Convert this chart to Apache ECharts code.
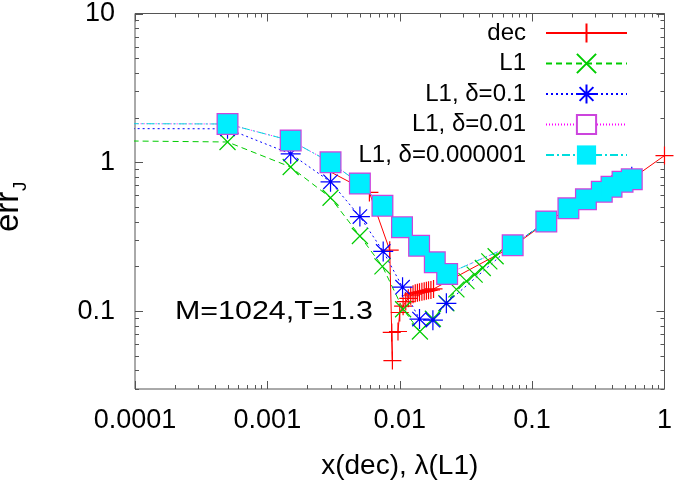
<!DOCTYPE html>
<html><head><meta charset="utf-8">
<script src="https://cdn.jsdelivr.net/npm/echarts@6/dist/echarts.min.js"></script>
<style>html,body{margin:0;padding:0;background:#fff}#c{width:675px;height:485px}</style>
</head><body><div id="c"></div>
<script>
// ---- axis ticks ----
const xTickValues = [0.0001, 0.001, 0.01, 0.1, 1];
const xTickLabels = ['0.0001', '0.001', '0.01', '0.1', '1'];
const yTickValues = [0.1, 1, 10];
const yTickLabels = ['0.1', '1', '10'];
const minorMultipliers = [2, 3, 4, 5, 6, 7, 8, 9];
const xMinorDecades = [0.0001, 0.001, 0.01, 0.1];
const yMinorDecades = [0.01, 0.1, 1];

// ---- series names ----
const seriesNames = ['dec', 'L1', 'L1, δ=0.1', 'L1, δ=0.01', 'L1, δ=0.000001'];

// ---- data ----
const decX = [0.003, 0.0059, 0.0084, 0.0088, 0.0087, 0.0097, 0.0100, 0.0106, 0.0111, 0.0116, 0.0121, 0.0126, 0.0131, 0.0136, 0.0141, 0.0147, 0.0153, 0.0159, 0.0165, 0.0172, 0.0180, 0.0713, 0.128, 0.188, 0.255, 0.336, 0.398, 0.482, 0.566, 1.0];
const decY = [0.862, 0.628, 0.257, 0.0466, 0.072, 0.073, 0.098, 0.108, 0.116, 0.122, 0.127, 0.130, 0.132, 0.133, 0.134, 0.135, 0.136, 0.137, 0.138, 0.139, 0.141, 0.272, 0.395, 0.487, 0.56, 0.63, 0.68, 0.735, 0.775, 1.11];

const l1X = [0.00001, 0.0005, 0.0015, 0.003, 0.005, 0.0074, 0.0106, 0.0142, 0.0178, 0.0225, 0.0268, 0.0319, 0.0368, 0.0424, 0.0475, 0.053, 0.0713, 0.128, 0.188, 0.255, 0.336, 0.398, 0.482, 0.566];
const l1Y = [1.42, 1.37, 0.93, 0.578, 0.32, 0.20, 0.103, 0.073, 0.089, 0.113, 0.140, 0.159, 0.176, 0.195, 0.216, 0.234, 0.277, 0.40, 0.491, 0.564, 0.634, 0.685, 0.74, 0.77];

const d01X = [0.00001, 0.0005, 0.0015, 0.003, 0.005, 0.0075, 0.0105, 0.0141, 0.0178, 0.0225, 0.0713, 0.128, 0.188, 0.255, 0.336, 0.398, 0.482, 0.566];
const d01Y = [1.69, 1.68, 1.14, 0.74, 0.432, 0.252, 0.145, 0.0885, 0.087, 0.113, 0.277, 0.40, 0.491, 0.566, 0.642, 0.70, 0.76, 0.80];

const d001X = [0.00001, 0.0005, 0.0015, 0.003, 0.005, 0.0074, 0.0104, 0.014, 0.0184, 0.0228, 0.0713, 0.128, 0.188, 0.255, 0.336, 0.398, 0.482, 0.566];
const d001Y = [1.83, 1.81, 1.40, 1.0, 0.72, 0.51, 0.367, 0.275, 0.213, 0.178, 0.277, 0.40, 0.491, 0.564, 0.634, 0.685, 0.74, 0.77];

const d1e6X = [0.00001, 0.0005, 0.0015, 0.003, 0.005, 0.0074, 0.0104, 0.014, 0.0184, 0.0228, 0.0713, 0.128, 0.188, 0.255, 0.336, 0.398, 0.482, 0.566];
const d1e6Y = [1.83, 1.81, 1.40, 1.0, 0.72, 0.51, 0.367, 0.275, 0.213, 0.178, 0.277, 0.40, 0.491, 0.564, 0.634, 0.685, 0.74, 0.77];

const FONT = '"Liberation Sans", Arial, Helvetica, sans-serif';
const zip = (xs, ys) => xs.map((x, i) => [x, ys[i]]);

const plusPath = 'path://M0,-1L0,1M-1,0L1,0';
const crossPath = 'path://M-1,-1L1,1M-1,1L1,-1';
const starPath = 'path://M0,-1L0,1M-1,0L1,0M-0.72,-0.72L0.72,0.72M-0.72,0.72L0.72,-0.72';

// tick descriptors: [x, y, kind(0=x,1=y), major]
const tickData = [];
xTickValues.forEach(v => tickData.push([v, 1, 0, 1]));
yTickValues.forEach(v => tickData.push([0.001, v, 1, 1]));
xMinorDecades.forEach(d => minorMultipliers.forEach(m => tickData.push([d * m, 1, 0, 0])));
yMinorDecades.forEach(d => minorMultipliers.forEach(m => { const v = d * m; if (v >= 0.03) tickData.push([0.001, v, 1, 0]); }));

function renderTick(params, api) {
  const cs = params.coordSys;
  const kind = api.value(2);
  const len = api.value(3) ? 8 : 4;
  const st = { stroke: '#555', lineWidth: 1 };
  if (kind === 0) {
    const px = Math.round(api.coord([api.value(0), 1])[0]) + 0.5;
    const b = cs.y + cs.height, t = cs.y;
    return { type: 'group', children: [
      { type: 'line', shape: { x1: px, y1: b, x2: px, y2: b - len }, style: st },
      { type: 'line', shape: { x1: px, y1: t, x2: px, y2: t + len }, style: st }
    ] };
  } else {
    const py = Math.round(api.coord([0.001, api.value(1)])[1]) + 0.5;
    const l = cs.x, r = cs.x + cs.width;
    return { type: 'group', children: [
      { type: 'line', shape: { x1: l, y1: py, x2: l + len, y2: py }, style: st },
      { type: 'line', shape: { x1: r, y1: py, x2: r - len, y2: py }, style: st }
    ] };
  }
}

function labelFor(values, labels) {
  return function (v) {
    for (let i = 0; i < values.length; i++) {
      if (Math.abs(Math.log10(v) - Math.log10(values[i])) < 1e-6) return labels[i];
    }
    return '';
  };
}

const common = { type: 'line', animation: false, emphasis: { disabled: true }, clip: true, z: 3 };

const option = {
  animation: false,
  backgroundColor: '#fff',
  grid: { left: 135, right: 10, top: 12, bottom: 94, show: true, borderColor: '#555', borderWidth: 1, backgroundColor: 'transparent' },
  xAxis: {
    type: 'log', logBase: 10, min: 0.0001, max: 1,
    axisLine: { show: false }, axisTick: { show: false }, splitLine: { show: false },
    axisLabel: { formatter: labelFor(xTickValues, xTickLabels), fontFamily: FONT, fontSize: 27, color: '#000', margin: 18, showMinLabel: true, showMaxLabel: true },
    name: 'x(dec), λ(L1)', nameLocation: 'middle', nameGap: 63,
    nameTextStyle: { fontFamily: FONT, fontSize: 28, color: '#000' }
  },
  yAxis: {
    type: 'log', logBase: 10, min: 0.03, max: 10,
    axisLine: { show: false }, axisTick: { show: false }, splitLine: { show: false },
    axisLabel: { formatter: labelFor(yTickValues, yTickLabels), fontFamily: FONT, fontSize: 27, color: '#000', margin: 20 }
  },
  legend: {
    data: seriesNames, orient: 'vertical', right: 42, top: 16, align: 'right',
    itemWidth: 81, itemHeight: 24, itemGap: 6.5, selectedMode: false,
    textStyle: { fontFamily: FONT, fontSize: 24, color: '#000', padding: [0, 15, 0, 0] }
  },
  graphic: [
    { type: 'text', x: 175, y: 312, scaleX: 1.17, style: { text: 'M=1024,T=1.3', font: '26px ' + FONT, fill: '#000', align: 'left', verticalAlign: 'middle' } },
    { type: 'group', x: 0, y: 232, rotation: Math.PI / 2, children: [
      { type: 'text', x: 0, y: 25, style: { text: 'err', font: '33px ' + FONT, fill: '#000', align: 'left', verticalAlign: 'bottom' } },
      { type: 'text', x: 41, y: 30, style: { text: 'J', font: '19px ' + FONT, fill: '#000', align: 'left', verticalAlign: 'bottom' } }
    ] }
  ],
  series: [
    { type: 'custom', renderItem: renderTick, data: tickData, silent: true, clip: false, z: 1, animation: false, encode: { x: 0, y: 1 } },
    Object.assign({}, common, {
      name: seriesNames[0], data: zip(decX, decY), symbol: plusPath, symbolSize: 18,
      lineStyle: { color: '#ff0000', width: 1 },
      itemStyle: { color: '#ff0000', borderColor: '#ff0000', borderWidth: 1.2 }
    }),
    Object.assign({}, common, {
      name: seriesNames[1], data: zip(l1X, l1Y), symbol: crossPath, symbolSize: 16,
      lineStyle: { color: '#00cc00', width: 1, type: [6, 4] },
      itemStyle: { color: '#00cc00', borderColor: '#00cc00', borderWidth: 1.2 }
    }),
    Object.assign({}, common, {
      name: seriesNames[2], data: zip(d01X, d01Y), symbol: starPath, symbolSize: 20,
      lineStyle: { color: '#0000ff', width: 1, type: [2, 3] },
      itemStyle: { color: '#0000ff', borderColor: '#0000ff', borderWidth: 1.2 }
    }),
    Object.assign({}, common, {
      name: seriesNames[3], data: zip(d001X, d001Y), symbol: 'emptyRect', symbolSize: 20,
      lineStyle: { color: '#ff00ff', width: 1, type: [1, 2] },
      itemStyle: { color: '#cc44dd', borderWidth: 1 }
    }),
    Object.assign({}, common, {
      name: seriesNames[4], data: zip(d1e6X, d1e6Y), symbol: 'rect', symbolSize: 19.5,
      lineStyle: { color: '#00dddd', width: 1, type: [8, 3, 2, 3] },
      itemStyle: { color: '#00eeff' }
    })
  ]
};

const chart = echarts.init(document.getElementById('c'), null, { renderer: 'canvas' });
chart.setOption(option);
</script>
</body></html>
